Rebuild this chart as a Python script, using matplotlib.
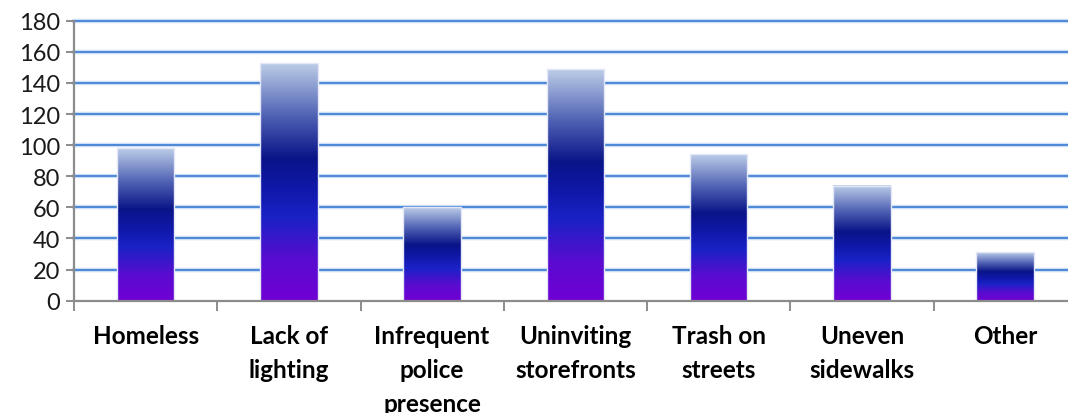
import matplotlib
matplotlib.use("Agg")
import matplotlib.pyplot as plt
import numpy as np
from matplotlib.colors import LinearSegmentedColormap

# survey answers
categories = ["Homeless", "Lack of\nlighting", "Infrequent\npolice\npresence",
              "Uninviting\nstorefronts", "Trash on\nstreets", "Uneven\nsidewalks", "Other"]
counts = [98, 153, 60, 149, 94, 74, 31]
yticks = [0, 20, 40, 60, 80, 100, 120, 140, 160, 180]

plt.rcParams['font.family'] = ['Lato', 'DejaVu Sans']

# violet at the base, navy in the middle, pale blue at the top
bar_cmap = LinearSegmentedColormap.from_list("barfill", [
    (0.00, "#7000d4"),
    (0.17, "#5a0cd0"),
    (0.35, "#1a22c6"),
    (0.47, "#1018aa"),
    (0.60, "#0a1488"),
    (0.78, "#5062b4"),
    (1.00, "#bccde8"),
])

fig = plt.figure(figsize=(10.68, 4.14), dpi=100)
ax = fig.add_axes([74/1068, (414-301.7)/414, 1002.75/1068, 280/414])

x = np.arange(len(categories))
bars = ax.bar(x, counts, width=0.4, facecolor="none", edgecolor="#e4e8f6",
              linewidth=1.0, zorder=4)

grad = np.linspace(1, 0, 256).reshape(-1, 1)
for b in bars:
    x0, w, h = b.get_x(), b.get_width(), b.get_height()
    ax.imshow(grad, cmap=bar_cmap, extent=[x0, x0 + w, 0, h], aspect="auto",
              interpolation="bilinear", zorder=3)

ax.set_xlim(-0.5, len(categories) - 0.5)
ax.set_ylim(0, 180)

# blue gridlines with a soft halo
for yv in yticks[1:]:
    ax.axhline(yv, color="#cddff5", lw=3.2, zorder=1, clip_on=False)
    ax.axhline(yv, color="#4d87d8", lw=1.4, zorder=2, clip_on=False)

for s in ["top", "right"]:
    ax.spines[s].set_visible(False)
for s in ["left", "bottom"]:
    ax.spines[s].set_color("#8c8c8c")
    ax.spines[s].set_linewidth(1.6)
    ax.spines[s].set_zorder(5)

ax.set_yticks(yticks)
ax.tick_params(axis="y", length=6, width=1.4, color="#8c8c8c", labelsize=17,
               labelcolor="#1a1a1a", pad=4)

ax.set_xticks(x)
ax.set_xticklabels(categories, fontsize=17.5, fontweight="bold", linespacing=1.58, va="top")
ax.tick_params(axis="x", which="major", length=0, pad=16.5)
ax.set_xticks(np.arange(-0.5, len(categories), 1.0), minor=True)
ax.tick_params(axis="x", which="minor", length=7, width=1.4, color="#8c8c8c")

fig.savefig("out.png", dpi=100)
